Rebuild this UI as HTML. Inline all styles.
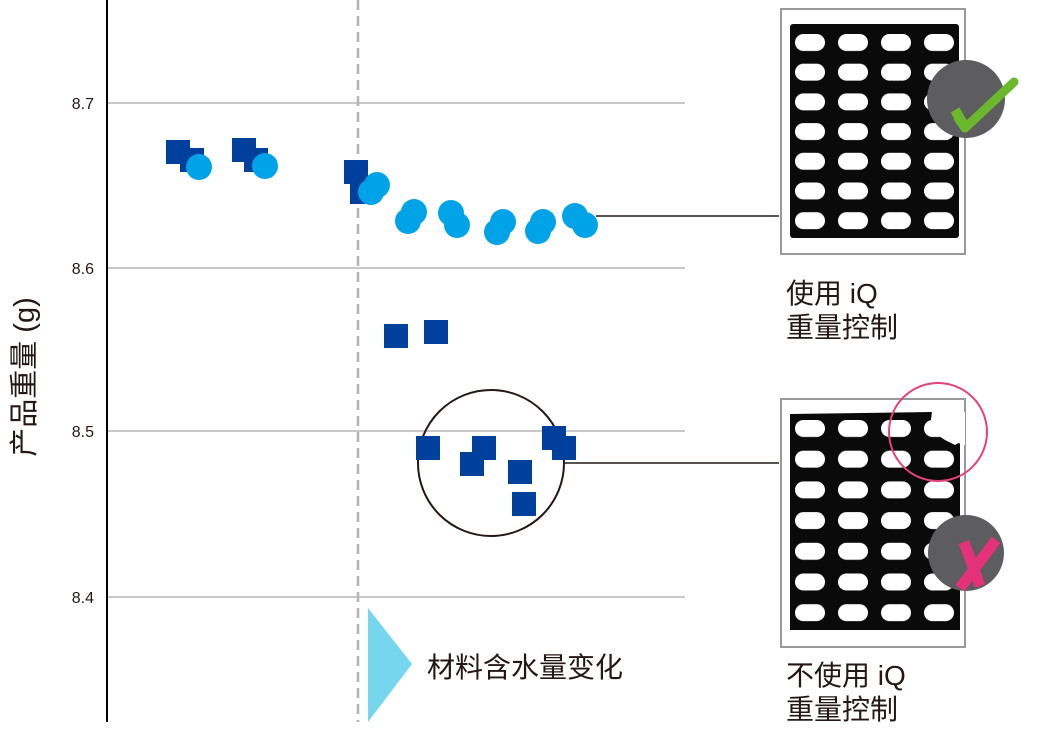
<!DOCTYPE html>
<html><head><meta charset="utf-8"><style>
html,body{margin:0;padding:0;background:#fff;}
svg{display:block;}
text{font-family:"Liberation Sans","Noto Sans CJK SC",sans-serif;fill:#231815;}
</style></head><body>
<svg width="1060" height="740" viewBox="0 0 1060 740" xmlns="http://www.w3.org/2000/svg">
<defs>
<pattern id="h1" x="795" y="34" width="43" height="29.7" patternUnits="userSpaceOnUse">
<rect x="0" y="0" width="30" height="17" rx="8.5" fill="#fff"/>
</pattern>
<pattern id="h2" x="795" y="420" width="43" height="30.7" patternUnits="userSpaceOnUse">
<rect x="0" y="0" width="30" height="17" rx="8.5" fill="#fff"/>
</pattern>
</defs>
<g stroke="#b5b5b5" stroke-width="1.5">
<line x1="108" y1="103" x2="685" y2="103"/>
<line x1="108" y1="268" x2="685" y2="268"/>
<line x1="108" y1="431" x2="685" y2="431"/>
<line x1="108" y1="597" x2="685" y2="597"/>
</g>
<line x1="358" y1="0" x2="358" y2="722" stroke="#b5b5b5" stroke-width="2.5" stroke-dasharray="10,6"/>
<line x1="107" y1="0" x2="107" y2="722" stroke="#000" stroke-width="2"/>
<g font-size="16" text-anchor="end">
<text x="94" y="109">8.7</text>
<text x="94" y="274">8.6</text>
<text x="94" y="437">8.5</text>
<text x="94" y="603">8.4</text>
</g>
<text x="0" y="0" font-size="29" text-anchor="middle" transform="translate(34,377) rotate(-90)">产品重量 (g)</text>
<g fill="#00409d">
<rect x="166" y="140" width="24" height="24"/><rect x="180" y="148" width="24" height="24"/>
<rect x="232" y="138" width="24" height="24"/><rect x="244" y="148" width="24" height="24"/>
<rect x="344" y="160" width="24" height="24"/><rect x="350" y="180" width="22" height="24"/>
</g>
<g fill="#00a3e8">
<circle cx="199" cy="167" r="13"/><circle cx="265" cy="166" r="13"/>
<circle cx="377" cy="185" r="13"/><circle cx="371" cy="192" r="13"/>
<circle cx="414" cy="212" r="13"/><circle cx="408" cy="221" r="13"/>
<circle cx="451" cy="213" r="13"/><circle cx="457" cy="225" r="13"/>
<circle cx="503" cy="222" r="13"/><circle cx="497" cy="232" r="13"/>
<circle cx="543" cy="222" r="13"/><circle cx="538" cy="231" r="13"/>
<circle cx="575" cy="216" r="13"/><circle cx="585" cy="225" r="13"/>
</g>
<line x1="596" y1="216" x2="779" y2="216" stroke="#231815" stroke-width="1.5"/>
<circle cx="491" cy="463" r="73" fill="none" stroke="#231815" stroke-width="2"/>
<g fill="#00409d">
<rect x="384" y="324" width="24" height="24"/><rect x="424" y="320" width="24" height="24"/>
<rect x="416" y="436" width="24" height="24"/><rect x="472" y="436" width="24" height="24"/>
<rect x="460" y="452" width="24" height="24"/><rect x="508" y="460" width="24" height="24"/>
<rect x="512" y="492" width="24" height="24"/><rect x="542" y="426" width="24" height="24"/>
<rect x="552" y="436" width="24" height="24"/>
</g>
<line x1="565" y1="463" x2="779" y2="463" stroke="#231815" stroke-width="1.5"/>
<polygon points="368,608 412,664 368,722" fill="#76d6ee"/>
<text x="427" y="677" font-size="28">材料含水量变化</text>
<rect x="781" y="9" width="184" height="245" fill="#fff" stroke="#999" stroke-width="2"/>
<rect x="790" y="24" width="169" height="214" rx="3" fill="#0a0a0a"/>
<rect x="790" y="24" width="169" height="214" fill="url(#h1)"/>
<circle cx="966" cy="99" r="39" fill="#5d5d60"/>
<path d="M958 118 L965 128 L1014 82" fill="none" stroke="#6cb82d" stroke-width="9" stroke-linecap="round" stroke-linejoin="round"/>
<path d="M955 110 L966 129" stroke="#6cb82d" stroke-width="10"/>
<text x="786" y="303" font-size="28">使用 iQ</text>
<text x="786" y="337" font-size="28">重量控制</text>
<rect x="781" y="399" width="184" height="248" fill="#fff" stroke="#999" stroke-width="2"/>
<path d="M790 414 L932 412 L930 430 L945 440 L955 445 L960 442 L960 630 L790 630 Z" fill="#0a0a0a"/>
<rect x="790" y="412" width="170" height="218" fill="url(#h2)"/>
<path d="M932 412 L965 412 L965 445 L958 443 L945 438 L930 428 Z" fill="#fff"/>
<circle cx="938" cy="432" r="49" fill="none" stroke="#e5417a" stroke-width="2"/>
<circle cx="966" cy="553" r="38" fill="#5d5d60"/>
<path d="M964 542 L980 586 M996 540 L960 588" stroke="#e5307a" stroke-width="11"/>
<text x="786" y="685" font-size="28">不使用 iQ</text>
<text x="786" y="719" font-size="28">重量控制</text>
</svg>
</body></html>
